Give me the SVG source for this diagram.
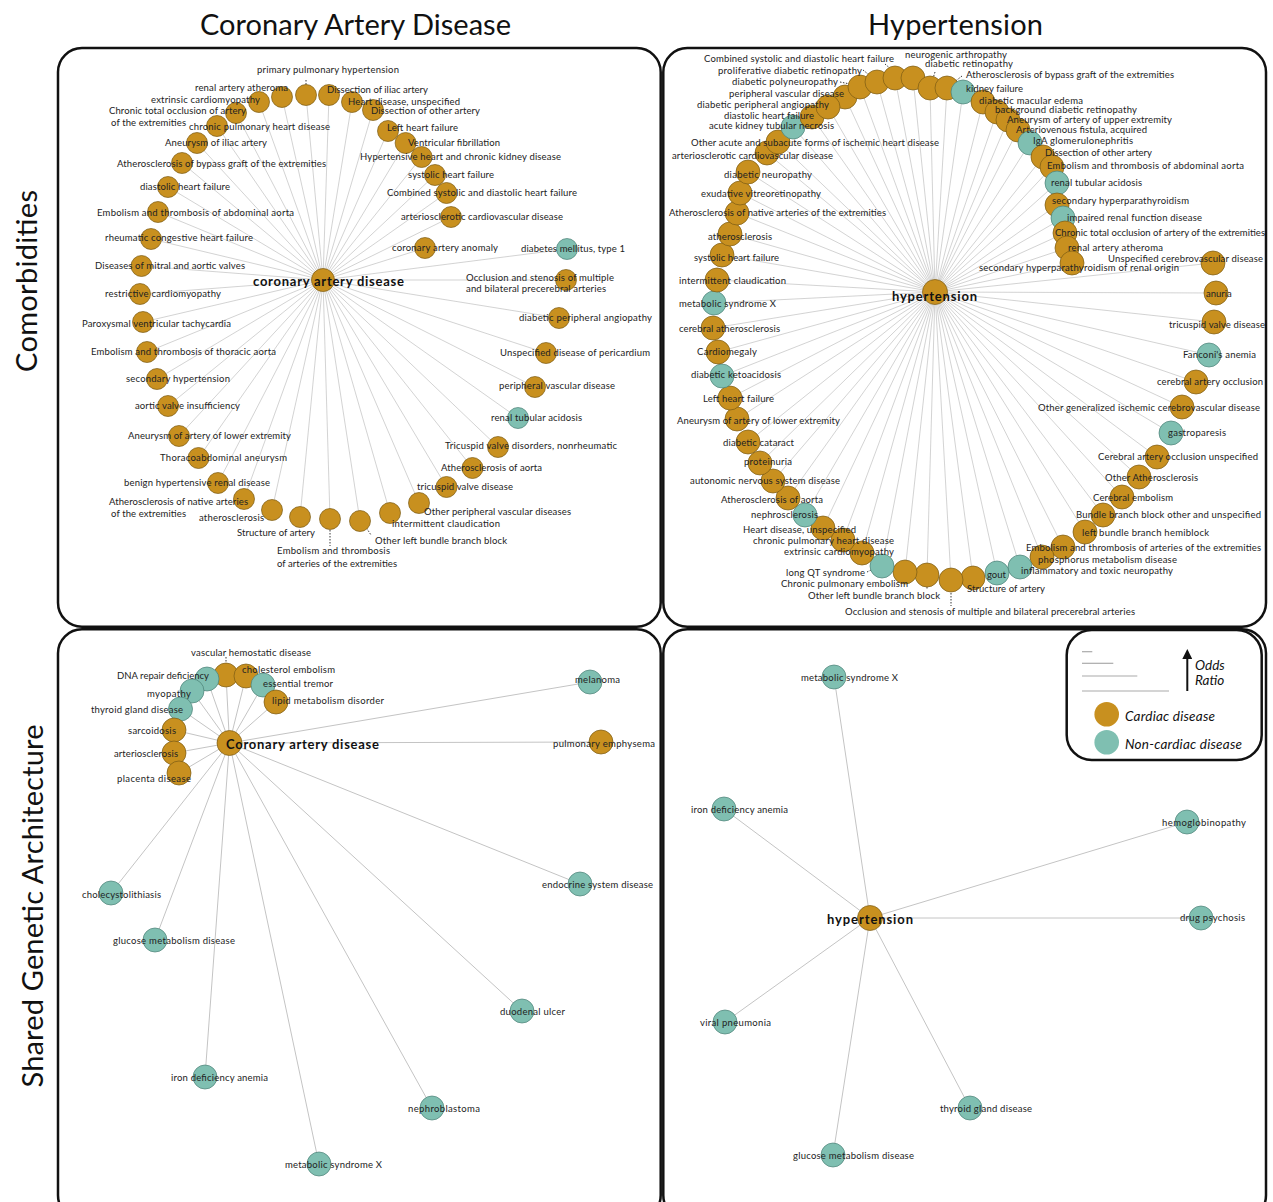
<svg xmlns="http://www.w3.org/2000/svg" width="1273" height="1202" viewBox="0 0 1273 1202">
<style>
.bg{fill:#fff}
.e{stroke:#c8c8c8;stroke-width:0.8;fill:none}
.e2{stroke:#c4c4c4;stroke-width:1;fill:none}
.c{fill:#C8901F;stroke:#7a5a14;stroke-width:0.7}
.t{fill:#7FBFB1;stroke:#4a7f76;stroke-width:0.7}
.l{font-family:Lato,"Liberation Sans",sans-serif;font-size:9.5px;fill:#222;dominant-baseline:central}
.hub{font-family:Lato,"Liberation Sans",sans-serif;font-weight:bold;font-size:13px;fill:#111;dominant-baseline:central}
.ld{stroke:#222;stroke-width:0.9;stroke-dasharray:1.5 1.5;fill:none}
.frame{fill:none;stroke:#111;stroke-width:2.5}
.title{font-family:Lato,"Liberation Sans",sans-serif;font-size:29px;fill:#111;dominant-baseline:central;text-anchor:middle}
.leg{font-family:Lato,"Liberation Sans",sans-serif;font-style:italic;font-size:13.5px;fill:#111;dominant-baseline:central}
.legline{stroke:#aaa;stroke-width:1.2}
</style>
<defs>
<marker id="arr" viewBox="0 0 10 10" refX="5" refY="5" markerWidth="5" markerHeight="5" orient="auto">
<path d="M0 0L10 5L0 10z" fill="#111"/>
</marker>
</defs>
<rect class="bg" x="0" y="0" width="1273" height="1202"/>

<g id="titles">
<text class="title" x="355.5" y="23" textLength="311">Coronary Artery Disease</text>
<text class="title" x="955.5" y="23" textLength="175">Hypertension</text>
<text class="title" transform="translate(25,281) rotate(-90)" x="0" y="0" textLength="182">Comorbidities</text>
<text class="title" transform="translate(31,906) rotate(-90)" x="0" y="0" textLength="363">Shared Genetic Architecture</text>
</g>

<g id="frames">
<rect class="frame" x="58" y="48" width="602.7" height="578.7" rx="24"/>
<rect class="frame" x="663.3" y="48" width="602.7" height="578.7" rx="24"/>
<rect class="frame" x="58" y="629.3" width="602.7" height="590" rx="24"/>
<rect class="frame" x="663.3" y="629.3" width="602.7" height="590" rx="24"/>
</g>

<g id="connectors">
<g id="edges-tl" class="e">
<line x1="323" y1="280" x2="306" y2="95"/><line x1="323" y1="280" x2="282" y2="97"/><line x1="323" y1="280" x2="259" y2="102"/><line x1="323" y1="280" x2="329" y2="95"/><line x1="323" y1="280" x2="352" y2="102"/><line x1="323" y1="280" x2="373" y2="110"/><line x1="323" y1="280" x2="236" y2="113"/><line x1="323" y1="280" x2="217" y2="126"/><line x1="323" y1="280" x2="197" y2="143"/><line x1="323" y1="280" x2="182" y2="163"/><line x1="323" y1="280" x2="168" y2="187"/><line x1="323" y1="280" x2="158" y2="212"/><line x1="323" y1="280" x2="151" y2="239"/><line x1="323" y1="280" x2="141.5" y2="266"/><line x1="323" y1="280" x2="140" y2="294"/><line x1="323" y1="280" x2="143" y2="322"/><line x1="323" y1="280" x2="147" y2="352"/><line x1="323" y1="280" x2="157" y2="379"/><line x1="323" y1="280" x2="168" y2="406"/><line x1="323" y1="280" x2="179" y2="436"/><line x1="323" y1="280" x2="198.5" y2="458"/><line x1="323" y1="280" x2="218" y2="483"/><line x1="323" y1="280" x2="244" y2="499"/><line x1="323" y1="280" x2="272" y2="510"/><line x1="323" y1="280" x2="300" y2="517"/><line x1="323" y1="280" x2="330" y2="519"/><line x1="323" y1="280" x2="360" y2="521"/><line x1="323" y1="280" x2="390" y2="513"/><line x1="323" y1="280" x2="419" y2="503"/><line x1="323" y1="280" x2="446.5" y2="487"/><line x1="323" y1="280" x2="472.5" y2="468"/><line x1="323" y1="280" x2="498" y2="447"/><line x1="323" y1="280" x2="518" y2="418"/><line x1="323" y1="280" x2="535" y2="387"/><line x1="323" y1="280" x2="546" y2="353"/><line x1="323" y1="280" x2="559" y2="318"/><line x1="323" y1="280" x2="566" y2="280"/><line x1="323" y1="280" x2="567" y2="249"/><line x1="323" y1="280" x2="425" y2="248"/><line x1="323" y1="280" x2="451" y2="217"/><line x1="323" y1="280" x2="446.5" y2="193"/><line x1="323" y1="280" x2="435" y2="175"/><line x1="323" y1="280" x2="421.6" y2="157"/><line x1="323" y1="280" x2="405.6" y2="143"/><line x1="323" y1="280" x2="388" y2="131"/>
</g>
<g id="edges-tr" class="e">
<line x1="935" y1="292" x2="845" y2="97"/><line x1="935" y1="292" x2="860" y2="87"/><line x1="935" y1="292" x2="877" y2="82"/><line x1="935" y1="292" x2="895" y2="78"/><line x1="935" y1="292" x2="913" y2="78"/><line x1="935" y1="292" x2="930" y2="88"/><line x1="935" y1="292" x2="947" y2="88"/><line x1="935" y1="292" x2="963" y2="92"/><line x1="935" y1="292" x2="983" y2="102"/><line x1="935" y1="292" x2="997" y2="112"/><line x1="935" y1="292" x2="1008" y2="120"/><line x1="935" y1="292" x2="1018" y2="130"/><line x1="935" y1="292" x2="1030" y2="143"/><line x1="935" y1="292" x2="1043" y2="157"/><line x1="935" y1="292" x2="1052" y2="167"/><line x1="935" y1="292" x2="1057" y2="183"/><line x1="935" y1="292" x2="1057" y2="205"/><line x1="935" y1="292" x2="1063" y2="218"/><line x1="935" y1="292" x2="1065" y2="233"/><line x1="935" y1="292" x2="1067" y2="248"/><line x1="935" y1="292" x2="1072" y2="263"/><line x1="935" y1="292" x2="1213" y2="263"/><line x1="935" y1="292" x2="1216" y2="293"/><line x1="935" y1="292" x2="1214" y2="322"/><line x1="935" y1="292" x2="1209" y2="355"/><line x1="935" y1="292" x2="1196" y2="382"/><line x1="935" y1="292" x2="1182" y2="407"/><line x1="935" y1="292" x2="1171" y2="433"/><line x1="935" y1="292" x2="1157" y2="457"/><line x1="935" y1="292" x2="1139" y2="477"/><line x1="935" y1="292" x2="1122" y2="497"/><line x1="935" y1="292" x2="1103" y2="515"/><line x1="935" y1="292" x2="1085" y2="532"/><line x1="935" y1="292" x2="1063" y2="547"/><line x1="935" y1="292" x2="1042" y2="557"/><line x1="935" y1="292" x2="1020" y2="567"/><line x1="935" y1="292" x2="997" y2="573"/><line x1="935" y1="292" x2="973" y2="578"/><line x1="935" y1="292" x2="951" y2="580"/><line x1="935" y1="292" x2="927" y2="575"/><line x1="935" y1="292" x2="905" y2="572"/><line x1="935" y1="292" x2="882" y2="566"/><line x1="935" y1="292" x2="862" y2="553"/><line x1="935" y1="292" x2="843" y2="540"/><line x1="935" y1="292" x2="823" y2="528"/><line x1="935" y1="292" x2="805" y2="515"/><line x1="935" y1="292" x2="788" y2="498"/><line x1="935" y1="292" x2="773" y2="481"/><line x1="935" y1="292" x2="760" y2="463"/><line x1="935" y1="292" x2="748" y2="442"/><line x1="935" y1="292" x2="737" y2="419"/><line x1="935" y1="292" x2="730" y2="398"/><line x1="935" y1="292" x2="722" y2="376"/><line x1="935" y1="292" x2="718" y2="352"/><line x1="935" y1="292" x2="713" y2="328"/><line x1="935" y1="292" x2="714" y2="303"/><line x1="935" y1="292" x2="717" y2="280"/><line x1="935" y1="292" x2="722" y2="255"/><line x1="935" y1="292" x2="730" y2="234"/><line x1="935" y1="292" x2="737" y2="213"/><line x1="935" y1="292" x2="740" y2="193"/><line x1="935" y1="292" x2="748" y2="172"/><line x1="935" y1="292" x2="767" y2="153"/><line x1="935" y1="292" x2="778" y2="142"/><line x1="935" y1="292" x2="793" y2="127"/><line x1="935" y1="292" x2="812" y2="117"/><line x1="935" y1="292" x2="828" y2="107"/>
</g>
<g id="edges-bl" class="e2">
<line x1="229.5" y1="743" x2="226" y2="675"/><line x1="229.5" y1="743" x2="207" y2="679"/><line x1="229.5" y1="743" x2="246" y2="676"/><line x1="229.5" y1="743" x2="263" y2="685"/><line x1="229.5" y1="743" x2="276" y2="702"/><line x1="229.5" y1="743" x2="192" y2="691"/><line x1="229.5" y1="743" x2="180.5" y2="709"/><line x1="229.5" y1="743" x2="174" y2="730"/><line x1="229.5" y1="743" x2="174" y2="753"/><line x1="229.5" y1="743" x2="179" y2="773"/><line x1="229.5" y1="743" x2="590" y2="682"/><line x1="229.5" y1="743" x2="601" y2="742"/><line x1="229.5" y1="743" x2="111" y2="893"/><line x1="229.5" y1="743" x2="155" y2="940"/><line x1="229.5" y1="743" x2="205" y2="1077"/><line x1="229.5" y1="743" x2="319" y2="1164"/><line x1="229.5" y1="743" x2="432" y2="1108"/><line x1="229.5" y1="743" x2="522" y2="1011"/><line x1="229.5" y1="743" x2="580" y2="884"/>
</g>
<g id="edges-br" class="e2">
<line x1="870" y1="918" x2="834" y2="677"/><line x1="870" y1="918" x2="724" y2="809"/><line x1="870" y1="918" x2="1187" y2="822"/><line x1="870" y1="918" x2="1201" y2="918"/><line x1="870" y1="918" x2="725" y2="1022"/><line x1="870" y1="918" x2="970" y2="1108"/><line x1="870" y1="918" x2="833" y2="1155"/>
</g>
<g id="leaders" class="ld">
<line x1="306" y1="80" x2="306" y2="93"/>
<line x1="330" y1="530" x2="330" y2="546"/>
<line x1="360" y1="518" x2="371" y2="535"/>
<line x1="840" y1="82" x2="860" y2="86"/>
<line x1="863" y1="70" x2="878" y2="82"/>
<line x1="885" y1="64" x2="900" y2="77"/>
<line x1="913" y1="67" x2="913" y2="87"/>
<line x1="935" y1="72" x2="930" y2="88"/>
<line x1="962" y1="76" x2="948" y2="87"/>
<line x1="951" y1="590" x2="951" y2="606"/>
<line x1="927" y1="578" x2="927" y2="590"/>
<line x1="904" y1="568" x2="904" y2="580"/>
<line x1="867" y1="572" x2="885" y2="563"/>
<line x1="226" y1="657" x2="226" y2="678"/>
</g>
</g>

<g id="nodes-tl">
<g id="tl-hub"><circle class="c" cx="323" cy="280" r="11.5"/></g>
<g id="tl-ppulm"><circle class="c" cx="306" cy="95" r="10.5"/></g>
<g id="tl-renal-atheroma"><circle class="c" cx="282" cy="97" r="10.5"/></g>
<g id="tl-extrinsic"><circle class="c" cx="259" cy="102" r="10.5"/></g>
<g id="tl-iliac-dissect"><circle class="c" cx="329" cy="95" r="10.5"/></g>
<g id="tl-heart-unspec"><circle class="c" cx="352" cy="102" r="10.5"/></g>
<g id="tl-other-dissect"><circle class="c" cx="373" cy="110" r="10.5"/></g>
<g id="tl-cto"><circle class="c" cx="236" cy="113" r="10.5"/></g>
<g id="tl-cpulm"><circle class="c" cx="217" cy="126" r="10.5"/></g>
<g id="tl-iliac-aneur"><circle class="c" cx="197" cy="143" r="10.5"/></g>
<g id="tl-bypass"><circle class="c" cx="182" cy="163" r="10.5"/></g>
<g id="tl-diastolic"><circle class="c" cx="168" cy="187" r="10.5"/></g>
<g id="tl-emb-abd"><circle class="c" cx="158" cy="212" r="10.5"/></g>
<g id="tl-rheum"><circle class="c" cx="151" cy="239" r="10.5"/></g>
<g id="tl-mitral"><circle class="c" cx="141.5" cy="266" r="10.5"/></g>
<g id="tl-restrictive"><circle class="c" cx="140" cy="294" r="10.5"/></g>
<g id="tl-pvt"><circle class="c" cx="143" cy="322" r="10.5"/></g>
<g id="tl-emb-thor"><circle class="c" cx="147" cy="352" r="10.5"/></g>
<g id="tl-sec-htn"><circle class="c" cx="157" cy="379" r="10.5"/></g>
<g id="tl-aortic-ins"><circle class="c" cx="168" cy="406" r="10.5"/></g>
<g id="tl-aneur-lower"><circle class="c" cx="179" cy="436" r="10.5"/></g>
<g id="tl-thoracoabd"><circle class="c" cx="198.5" cy="458" r="10.5"/></g>
<g id="tl-benign"><circle class="c" cx="218" cy="483" r="10.5"/></g>
<g id="tl-native"><circle class="c" cx="244" cy="499" r="10.5"/></g>
<g id="tl-athero"><circle class="c" cx="272" cy="510" r="10.5"/></g>
<g id="tl-structure"><circle class="c" cx="300" cy="517" r="10.5"/></g>
<g id="tl-emb-ext"><circle class="c" cx="330" cy="519" r="10.5"/></g>
<g id="tl-olbbb"><circle class="c" cx="360" cy="521" r="10.5"/></g>
<g id="tl-intermittent"><circle class="c" cx="390" cy="513" r="10.5"/></g>
<g id="tl-other-pvd"><circle class="c" cx="419" cy="503" r="10.5"/></g>
<g id="tl-tricuspid-vd"><circle class="c" cx="446.5" cy="487" r="10.5"/></g>
<g id="tl-athero-aorta"><circle class="c" cx="472.5" cy="468" r="10.5"/></g>
<g id="tl-tricuspid-dis"><circle class="c" cx="498" cy="447" r="10.5"/></g>
<g id="tl-rta"><circle class="t" cx="518" cy="418" r="10.5"/></g>
<g id="tl-pvd"><circle class="c" cx="535" cy="387" r="10.5"/></g>
<g id="tl-pericard"><circle class="c" cx="546" cy="353" r="10.5"/></g>
<g id="tl-dpa"><circle class="c" cx="559" cy="318" r="10.5"/></g>
<g id="tl-occl"><circle class="c" cx="566" cy="280" r="10.5"/></g>
<g id="tl-dm1"><circle class="t" cx="567" cy="249" r="10.5"/></g>
<g id="tl-anomaly"><circle class="c" cx="425" cy="248" r="10.5"/></g>
<g id="tl-ascvd"><circle class="c" cx="451" cy="217" r="10.5"/></g>
<g id="tl-combined"><circle class="c" cx="446.5" cy="193" r="10.5"/></g>
<g id="tl-systolic"><circle class="c" cx="435" cy="175" r="10.5"/></g>
<g id="tl-hhckd"><circle class="c" cx="421.6" cy="157" r="10.5"/></g>
<g id="tl-vfib"><circle class="c" cx="405.6" cy="143" r="10.5"/></g>
<g id="tl-lhf"><circle class="c" cx="388" cy="131" r="10.5"/></g>
</g>

<g id="nodes-tr">
<g id="tr-hub"><circle class="c" cx="935" cy="292" r="12.5"/></g>
<g id="tr-pvd"><circle class="c" cx="845" cy="97" r="12"/></g>
<g id="tr-polyneur"><circle class="c" cx="860" cy="87" r="12"/></g>
<g id="tr-prolif"><circle class="c" cx="877" cy="82" r="12"/></g>
<g id="tr-combined"><circle class="c" cx="895" cy="78" r="12"/></g>
<g id="tr-neuro-arth"><circle class="c" cx="913" cy="78" r="12"/></g>
<g id="tr-dretino"><circle class="c" cx="930" cy="88" r="12"/></g>
<g id="tr-bypass"><circle class="c" cx="947" cy="88" r="12"/></g>
<g id="tr-kidney-fail"><circle class="t" cx="963" cy="92" r="12"/></g>
<g id="tr-macular"><circle class="c" cx="983" cy="102" r="12"/></g>
<g id="tr-background"><circle class="c" cx="997" cy="112" r="12"/></g>
<g id="tr-upper-ext"><circle class="c" cx="1008" cy="120" r="12"/></g>
<g id="tr-avf"><circle class="c" cx="1018" cy="130" r="12"/></g>
<g id="tr-iga"><circle class="t" cx="1030" cy="143" r="12"/></g>
<g id="tr-dissect"><circle class="c" cx="1043" cy="157" r="12"/></g>
<g id="tr-emb-abd"><circle class="c" cx="1052" cy="167" r="12"/></g>
<g id="tr-rta"><circle class="t" cx="1057" cy="183" r="12"/></g>
<g id="tr-shpt"><circle class="c" cx="1057" cy="205" r="12"/></g>
<g id="tr-impaired"><circle class="t" cx="1063" cy="218" r="12"/></g>
<g id="tr-cto"><circle class="c" cx="1065" cy="233" r="12"/></g>
<g id="tr-raa"><circle class="c" cx="1067" cy="248" r="12"/></g>
<g id="tr-shpt-renal"><circle class="c" cx="1072" cy="263" r="12"/></g>
<g id="tr-ucvd"><circle class="c" cx="1213" cy="263" r="12"/></g>
<g id="tr-anuria"><circle class="c" cx="1216" cy="293" r="12"/></g>
<g id="tr-tvd"><circle class="c" cx="1214" cy="322" r="12"/></g>
<g id="tr-fanconi"><circle class="t" cx="1209" cy="355" r="12"/></g>
<g id="tr-cao"><circle class="c" cx="1196" cy="382" r="12"/></g>
<g id="tr-ogicvd"><circle class="c" cx="1182" cy="407" r="12"/></g>
<g id="tr-gastro"><circle class="t" cx="1171" cy="433" r="12"/></g>
<g id="tr-caou"><circle class="c" cx="1157" cy="457" r="12"/></g>
<g id="tr-oathero"><circle class="c" cx="1139" cy="477" r="12"/></g>
<g id="tr-cemb"><circle class="c" cx="1122" cy="497" r="12"/></g>
<g id="tr-bbb"><circle class="c" cx="1103" cy="515" r="12"/></g>
<g id="tr-lbbh"><circle class="c" cx="1085" cy="532" r="12"/></g>
<g id="tr-emb-ext"><circle class="c" cx="1063" cy="547" r="12"/></g>
<g id="tr-phos"><circle class="c" cx="1042" cy="557" r="12"/></g>
<g id="tr-inflam"><circle class="t" cx="1020" cy="567" r="12"/></g>
<g id="tr-gout"><circle class="t" cx="997" cy="573" r="12"/></g>
<g id="tr-structure"><circle class="c" cx="973" cy="578" r="12"/></g>
<g id="tr-occl"><circle class="c" cx="951" cy="580" r="12"/></g>
<g id="tr-olbbb"><circle class="c" cx="927" cy="575" r="12"/></g>
<g id="tr-cpe"><circle class="c" cx="905" cy="572" r="12"/></g>
<g id="tr-lqt"><circle class="t" cx="882" cy="566" r="12"/></g>
<g id="tr-extrinsic"><circle class="c" cx="862" cy="553" r="12"/></g>
<g id="tr-cphd"><circle class="c" cx="843" cy="540" r="12"/></g>
<g id="tr-hdu"><circle class="c" cx="823" cy="528" r="12"/></g>
<g id="tr-nephro"><circle class="t" cx="805" cy="515" r="12"/></g>
<g id="tr-athaorta"><circle class="c" cx="788" cy="498" r="12"/></g>
<g id="tr-autonomic"><circle class="c" cx="773" cy="481" r="12"/></g>
<g id="tr-proteinuria"><circle class="c" cx="760" cy="463" r="12"/></g>
<g id="tr-cataract"><circle class="c" cx="748" cy="442" r="12"/></g>
<g id="tr-aneur-lower"><circle class="c" cx="737" cy="419" r="12"/></g>
<g id="tr-lhf"><circle class="c" cx="730" cy="398" r="12"/></g>
<g id="tr-dka"><circle class="t" cx="722" cy="376" r="12"/></g>
<g id="tr-cardiomegaly"><circle class="c" cx="718" cy="352" r="12"/></g>
<g id="tr-cathero"><circle class="c" cx="713" cy="328" r="12"/></g>
<g id="tr-metx"><circle class="t" cx="714" cy="303" r="12"/></g>
<g id="tr-ic"><circle class="c" cx="717" cy="280" r="12"/></g>
<g id="tr-shf"><circle class="c" cx="722" cy="255" r="12"/></g>
<g id="tr-athero"><circle class="c" cx="730" cy="234" r="12"/></g>
<g id="tr-native"><circle class="c" cx="737" cy="213" r="12"/></g>
<g id="tr-exudative"><circle class="c" cx="740" cy="193" r="12"/></g>
<g id="tr-dneuro"><circle class="c" cx="748" cy="172" r="12"/></g>
<g id="tr-ascvd"><circle class="c" cx="767" cy="153" r="12"/></g>
<g id="tr-oacute"><circle class="c" cx="778" cy="142" r="12"/></g>
<g id="tr-aktn"><circle class="t" cx="793" cy="127" r="12"/></g>
<g id="tr-dhf"><circle class="c" cx="812" cy="117" r="12"/></g>
<g id="tr-dpa"><circle class="c" cx="828" cy="107" r="12"/></g>
</g>

<g id="nodes-bl">
<g id="bl-hub"><circle class="c" cx="229.5" cy="743" r="12.5"/></g>
<g id="bl-vhd"><circle class="c" cx="226" cy="675" r="12"/></g>
<g id="bl-dna"><circle class="t" cx="207" cy="679" r="12"/></g>
<g id="bl-chol"><circle class="c" cx="246" cy="676" r="12"/></g>
<g id="bl-tremor"><circle class="t" cx="263" cy="685" r="12"/></g>
<g id="bl-lipid"><circle class="c" cx="276" cy="702" r="12"/></g>
<g id="bl-myopathy"><circle class="t" cx="192" cy="691" r="12"/></g>
<g id="bl-thyroid"><circle class="t" cx="180.5" cy="709" r="12"/></g>
<g id="bl-sarcoid"><circle class="c" cx="174" cy="730" r="12"/></g>
<g id="bl-arterio"><circle class="c" cx="174" cy="753" r="12"/></g>
<g id="bl-placenta"><circle class="c" cx="179" cy="773" r="12"/></g>
<g id="bl-melanoma"><circle class="t" cx="590" cy="682" r="12"/></g>
<g id="bl-emphysema"><circle class="c" cx="601" cy="742" r="12"/></g>
<g id="bl-cholecyst"><circle class="t" cx="111" cy="893" r="12"/></g>
<g id="bl-glucose"><circle class="t" cx="155" cy="940" r="12"/></g>
<g id="bl-iron"><circle class="t" cx="205" cy="1077" r="12"/></g>
<g id="bl-metx"><circle class="t" cx="319" cy="1164" r="12"/></g>
<g id="bl-nephroblastoma"><circle class="t" cx="432" cy="1108" r="12"/></g>
<g id="bl-duodenal"><circle class="t" cx="522" cy="1011" r="12"/></g>
<g id="bl-endocrine"><circle class="t" cx="580" cy="884" r="12"/></g>
</g>

<g id="nodes-br">
<g id="br-hub"><circle class="c" cx="870" cy="918" r="12.5"/></g>
<g id="br-metx"><circle class="t" cx="834" cy="677" r="12"/></g>
<g id="br-iron"><circle class="t" cx="724" cy="809" r="12"/></g>
<g id="br-hemoglob"><circle class="t" cx="1187" cy="822" r="12"/></g>
<g id="br-drug"><circle class="t" cx="1201" cy="918" r="12"/></g>
<g id="br-viral"><circle class="t" cx="725" cy="1022" r="12"/></g>
<g id="br-thyroid"><circle class="t" cx="970" cy="1108" r="12"/></g>
<g id="br-glucose"><circle class="t" cx="833" cy="1155" r="12"/></g>
</g>

<g id="labels-tl" class="l">
<text class="hub" x="253" y="281" textLength="151">coronary artery disease</text>
<text x="257" y="69" textLength="142">primary pulmonary hypertension</text>
<text x="195" y="87" textLength="93">renal artery atheroma</text>
<text x="151" y="99" textLength="109">extrinsic cardiomyopathy</text>
<text x="327" y="89" textLength="101">Dissection of iliac artery</text>
<text x="348" y="101" textLength="112">Heart disease, unspecified</text>
<text x="371" y="110" textLength="109">Dissection of other artery</text>
<text x="109" y="110" textLength="137">Chronic total occlusion of artery</text>
<text x="111" y="122" textLength="75">of the extremities</text>
<text x="189" y="126" textLength="141">chronic pulmonary heart disease</text>
<text x="165" y="142" textLength="102">Aneurysm of iliac artery</text>
<text x="117" y="163" textLength="209">Atherosclerosis of bypass graft of the extremities</text>
<text x="140" y="186" textLength="90">diastolic heart failure</text>
<text x="97" y="212" textLength="197">Embolism and thrombosis of abdominal aorta</text>
<text x="105" y="237" textLength="148">rheumatic congestive heart failure</text>
<text x="95" y="265" textLength="150">Diseases of mitral and aortic valves</text>
<text x="105" y="293" textLength="116">restrictive cardiomyopathy</text>
<text x="82" y="323" textLength="149">Paroxysmal ventricular tachycardia</text>
<text x="91" y="351" textLength="185">Embolism and thrombosis of thoracic aorta</text>
<text x="126" y="378" textLength="104">secondary hypertension</text>
<text x="135" y="405" textLength="105">aortic valve insufficiency</text>
<text x="128" y="435" textLength="163">Aneurysm of artery of lower extremity</text>
<text x="160" y="457" textLength="127">Thoracoabdominal aneurysm</text>
<text x="124" y="482" textLength="146">benign hypertensive renal disease</text>
<text x="109" y="501" textLength="139">Atherosclerosis of native arteries</text>
<text x="111" y="513" textLength="75">of the extremities</text>
<text x="199" y="517" textLength="65">atherosclerosis</text>
<text x="237" y="532" textLength="78">Structure of artery</text>
<text x="277" y="550" textLength="113">Embolism and thrombosis</text>
<text x="277" y="563" textLength="120">of arteries of the extremities</text>
<text x="375" y="540" textLength="132">Other left bundle branch block</text>
<text x="392" y="523" textLength="108">intermittent claudication</text>
<text x="424" y="511" textLength="147">Other peripheral vascular diseases</text>
<text x="417" y="486" textLength="96">tricuspid valve disease</text>
<text x="441" y="467" textLength="101">Atherosclerosis of aorta</text>
<text x="445" y="445" textLength="172">Tricuspid valve disorders, nonrheumatic</text>
<text x="491" y="417" textLength="91">renal tubular acidosis</text>
<text x="499" y="385" textLength="116">peripheral vascular disease</text>
<text x="500" y="352" textLength="150">Unspecified disease of pericardium</text>
<text x="519" y="317" textLength="133">diabetic peripheral angiopathy</text>
<text x="466" y="277" textLength="148">Occlusion and stenosis of multiple</text>
<text x="466" y="288" textLength="140">and bilateral precerebral arteries</text>
<text x="521" y="248" textLength="104">diabetes mellitus, type 1</text>
<text x="392" y="247" textLength="106">coronary artery anomaly</text>
<text x="401" y="216" textLength="162">arteriosclerotic cardiovascular disease</text>
<text x="387" y="192" textLength="190">Combined systolic and diastolic heart failure</text>
<text x="408" y="174" textLength="86">systolic heart failure</text>
<text x="360" y="156" textLength="201">Hypertensive heart and chronic kidney disease</text>
<text x="408" y="142" textLength="92">Ventricular fibrillation</text>
<text x="387" y="127" textLength="71">Left heart failure</text>
</g>

<g id="labels-tr" class="l">
<text class="hub" x="892" y="296" textLength="85">hypertension</text>
<text x="729" y="93" textLength="115">peripheral vascular disease</text>
<text x="732" y="81" textLength="106">diabetic polyneuropathy</text>
<text x="718" y="70" textLength="144">proliferative diabetic retinopathy</text>
<text x="704" y="58" textLength="190">Combined systolic and diastolic heart failure</text>
<text x="905" y="54" textLength="102">neurogenic arthropathy</text>
<text x="925" y="63" textLength="88">diabetic retinopathy</text>
<text x="966" y="74" textLength="208">Atherosclerosis of bypass graft of the extremities</text>
<text x="966" y="88" textLength="57">kidney failure</text>
<text x="979" y="100" textLength="104">diabetic macular edema</text>
<text x="995" y="109" textLength="142">background diabetic retinopathy</text>
<text x="1007" y="119" textLength="165">Aneurysm of artery of upper extremity</text>
<text x="1016" y="129" textLength="131">Arteriovenous fistula, acquired</text>
<text x="1033" y="140" textLength="100">IgA glomerulonephritis</text>
<text x="1045" y="152" textLength="107">Dissection of other artery</text>
<text x="1047" y="165" textLength="197">Embolism and thrombosis of abdominal aorta</text>
<text x="1051" y="182" textLength="91">renal tubular acidosis</text>
<text x="1052" y="200" textLength="137">secondary hyperparathyroidism</text>
<text x="1067" y="217" textLength="135">impaired renal function disease</text>
<text x="1055" y="232" textLength="210">Chronic total occlusion of artery of the extremities</text>
<text x="1068" y="247" textLength="95">renal artery atheroma</text>
<text x="979" y="267" textLength="200">secondary hyperparathyroidism of renal origin</text>
<text x="1108" y="258" textLength="155">Unspecified cerebrovascular disease</text>
<text x="1206" y="293">anuria</text>
<text x="1169" y="324" textLength="96">tricuspid valve disease</text>
<text x="1183" y="354" textLength="73">Fanconi's anemia</text>
<text x="1157" y="381" textLength="106">cerebral artery occlusion</text>
<text x="1038" y="407" textLength="222">Other generalized ischemic cerebrovascular disease</text>
<text x="1168" y="432" textLength="58">gastroparesis</text>
<text x="1098" y="456" textLength="160">Cerebral artery occlusion unspecified</text>
<text x="1105" y="477" textLength="93">Other Atherosclerosis</text>
<text x="1093" y="497" textLength="80">Cerebral embolism</text>
<text x="1076" y="514" textLength="185">Bundle branch block other and unspecified</text>
<text x="1082" y="532" textLength="127">left bundle branch hemiblock</text>
<text x="1026" y="547" textLength="235">Embolism and thrombosis of arteries of the extremities</text>
<text x="1038" y="559" textLength="139">phosphorus metabolism disease</text>
<text x="1021" y="570" textLength="152">inflammatory and toxic neuropathy</text>
<text x="987" y="574">gout</text>
<text x="967" y="588" textLength="78">Structure of artery</text>
<text x="845" y="611" textLength="290">Occlusion and stenosis of multiple and bilateral precerebral arteries</text>
<text x="808" y="595" textLength="132">Other left bundle branch block</text>
<text x="781" y="583" textLength="127">Chronic pulmonary embolism</text>
<text x="786" y="572" textLength="79">long QT syndrome</text>
<text x="784" y="551" textLength="110">extrinsic cardiomyopathy</text>
<text x="753" y="540" textLength="141">chronic pulmonary heart disease</text>
<text x="743" y="529" textLength="113">Heart disease, unspecified</text>
<text x="751" y="514" textLength="67">nephrosclerosis</text>
<text x="721" y="499" textLength="102">Atherosclerosis of aorta</text>
<text x="690" y="480" textLength="150">autonomic nervous system disease</text>
<text x="744" y="461" textLength="48">proteinuria</text>
<text x="723" y="442" textLength="71">diabetic cataract</text>
<text x="677" y="420" textLength="163">Aneurysm of artery of lower extremity</text>
<text x="703" y="398" textLength="71">Left heart failure</text>
<text x="691" y="374" textLength="90">diabetic ketoacidosis</text>
<text x="697" y="351" textLength="60">Cardiomegaly</text>
<text x="679" y="328" textLength="101">cerebral atherosclerosis</text>
<text x="679" y="303" textLength="97">metabolic syndrome X</text>
<text x="679" y="280" textLength="107">intermittent claudication</text>
<text x="694" y="257" textLength="85">systolic heart failure</text>
<text x="708" y="236" textLength="64">atherosclerosis</text>
<text x="669" y="212" textLength="217">Atherosclerosis of native arteries of the extremities</text>
<text x="701" y="193" textLength="120">exudative vitreoretinopathy</text>
<text x="724" y="174" textLength="88">diabetic neuropathy</text>
<text x="672" y="155" textLength="161">arteriosclerotic cardiovascular disease</text>
<text x="691" y="142" textLength="248">Other acute and subacute forms of ischemic heart disease</text>
<text x="709" y="125" textLength="125">acute kidney tubular necrosis</text>
<text x="724" y="115" textLength="90">diastolic heart failure</text>
<text x="697" y="104" textLength="132">diabetic peripheral angiopathy</text>
</g>

<g id="labels-bl" class="l">
<text class="hub" x="226" y="744" textLength="153">Coronary artery disease</text>
<text x="191" y="652" textLength="120">vascular hemostatic disease</text>
<text x="117" y="675" textLength="92">DNA repair deficiency</text>
<text x="242" y="669" textLength="93">cholesterol embolism</text>
<text x="263" y="683" textLength="70">essential tremor</text>
<text x="272" y="700" textLength="112">lipid metabolism disorder</text>
<text x="147" y="693" textLength="44">myopathy</text>
<text x="91" y="709" textLength="92">thyroid gland disease</text>
<text x="128" y="730" textLength="48">sarcoidosis</text>
<text x="114" y="753" textLength="64">arteriosclerosis</text>
<text x="117" y="778" textLength="74">placenta disease</text>
<text x="575" y="679" textLength="45">melanoma</text>
<text x="553" y="743" textLength="102">pulmonary emphysema</text>
<text x="82" y="894" textLength="79">cholecystolithiasis</text>
<text x="113" y="940" textLength="122">glucose metabolism disease</text>
<text x="171" y="1077" textLength="97">iron deficiency anemia</text>
<text x="285" y="1164" textLength="97">metabolic syndrome X</text>
<text x="408" y="1108" textLength="72">nephroblastoma</text>
<text x="500" y="1011" textLength="65">duodenal ulcer</text>
<text x="542" y="884" textLength="111">endocrine system disease</text>
</g>

<g id="labels-br" class="l">
<text class="hub" x="827" y="919" textLength="86">hypertension</text>
<text x="801" y="677" textLength="97">metabolic syndrome X</text>
<text x="691" y="809" textLength="97">iron deficiency anemia</text>
<text x="1162" y="822" textLength="84">hemoglobinopathy</text>
<text x="1180" y="917" textLength="65">drug psychosis</text>
<text x="700" y="1022" textLength="71">viral pneumonia</text>
<text x="940" y="1108" textLength="92">thyroid gland disease</text>
<text x="793" y="1155" textLength="121">glucose metabolism disease</text>
</g>

<g id="legend">
<rect x="1066.7" y="630" width="195" height="130" rx="25" fill="#fff" stroke="#111" stroke-width="2.5"/>
<line class="legline" x1="1082" y1="651.7" x2="1092.3" y2="651.7"/>
<line class="legline" x1="1082" y1="663.3" x2="1113.3" y2="663.3"/>
<line class="legline" x1="1082" y1="676" x2="1137.3" y2="676"/>
<line class="legline" x1="1082" y1="691" x2="1169" y2="691"/>
<line x1="1187.3" y1="691" x2="1187.3" y2="654" stroke="#111" stroke-width="2" marker-end="url(#arr)"/>
<text class="leg" x="1195" y="665">Odds</text>
<text class="leg" x="1195" y="679.5">Ratio</text>
<circle cx="1106.7" cy="714.3" r="12.3" fill="#C8901F"/>
<text class="leg" x="1125" y="716" textLength="90">Cardiac disease</text>
<circle cx="1106.7" cy="742.3" r="12.3" fill="#7FBFB1"/>
<text class="leg" x="1125" y="743.5" textLength="117">Non-cardiac disease</text>
</g>
</svg>
